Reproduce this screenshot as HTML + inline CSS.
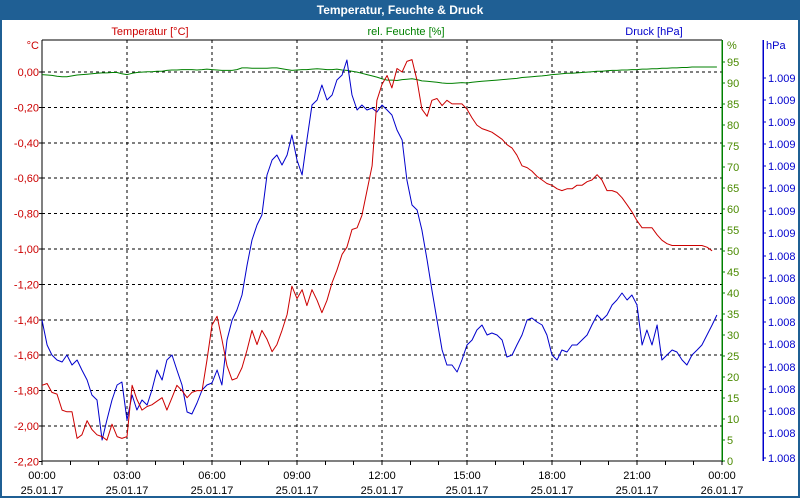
<!DOCTYPE html>
<html><head><meta charset="utf-8"><style>
html,body{margin:0;padding:0;background:#fff}
#win{position:relative;width:796px;height:496px;border:2px solid #1f5f94;border-top:none;background:#fff;overflow:hidden}
#title{position:absolute;left:0;top:0;width:796px;height:20px;background:#1f5f94;color:#fff;font:bold 12px "Liberation Sans",sans-serif;text-align:center;line-height:20px}
svg text{font-family:"Liberation Sans",sans-serif;font-size:11px}
</style></head><body>
<div id="win">
<div id="title">Temperatur, Feuchte &amp; Druck</div>
<svg id="chart" width="796" height="496" style="position:absolute;left:0;top:0"></svg>
</div>
<script>
const times=[0,0.18,0.35,0.53,0.71,0.88,1.06,1.24,1.41,1.59,1.76,1.94,2.12,2.29,2.47,2.65,2.82,
3,3.18,3.35,3.53,3.71,3.88,4.06,4.24,4.41,4.59,4.76,4.94,5.12,5.29,5.47,5.65,5.82,
6,6.18,6.35,6.53,6.71,6.88,7.06,7.24,7.41,7.59,7.76,7.94,8.12,8.29,8.47,8.65,8.82,
9,9.18,9.35,9.53,9.71,9.88,10.06,10.24,10.41,10.59,10.76,10.94,11.12,11.29,11.47,11.65,11.82,
12,12.18,12.35,12.53,12.71,12.88,13.06,13.24,13.41,13.59,13.76,13.94,14.12,14.29,14.47,14.65,14.82,
15,15.18,15.35,15.53,15.71,15.88,16.06,16.24,16.41,16.59,16.76,16.94,17.12,17.29,17.47,17.65,17.82,
18,18.18,18.35,18.53,18.71,18.88,19.06,19.24,19.41,19.59,19.76,19.94,20.12,20.29,20.47,20.65,20.82,
21,21.18,21.35,21.53,21.71,21.88,22.06,22.24,22.41,22.59,22.76,22.94,23.12,23.29,23.47,23.65,23.82];
const temperature=[-1.77,-1.76,-1.81,-1.82,-1.91,-1.92,-1.92,-2.07,-2.05,-1.97,-2.02,-2.05,-2.06,-2.08,-1.99,-2.06,-2.07,
-2.06,-1.77,-1.85,-1.91,-1.89,-1.88,-1.86,-1.84,-1.91,-1.84,-1.77,-1.80,-1.84,-1.81,-1.80,-1.80,-1.63,
-1.43,-1.38,-1.51,-1.66,-1.74,-1.73,-1.67,-1.57,-1.46,-1.54,-1.46,-1.51,-1.58,-1.54,-1.46,-1.37,-1.21,
-1.28,-1.23,-1.32,-1.23,-1.29,-1.36,-1.29,-1.19,-1.12,-1.03,-0.99,-0.89,-0.88,-0.81,-0.67,-0.53,-0.16,
-0.07,-0.02,-0.09,0.02,0.00,0.06,0.07,-0.05,-0.21,-0.25,-0.16,-0.15,-0.19,-0.16,-0.18,-0.18,-0.18,
-0.21,-0.26,-0.30,-0.32,-0.33,-0.34,-0.36,-0.38,-0.41,-0.43,-0.47,-0.53,-0.54,-0.56,-0.59,-0.61,-0.63,
-0.64,-0.66,-0.67,-0.66,-0.66,-0.64,-0.64,-0.62,-0.61,-0.58,-0.61,-0.67,-0.67,-0.68,-0.71,-0.75,-0.79,
-0.84,-0.88,-0.88,-0.88,-0.92,-0.95,-0.97,-0.98,-0.98,-0.98,-0.98,-0.98,-0.98,-0.98,-0.99,-1.01];
const humidity=[92.0,91.9,91.8,91.6,91.5,91.5,91.7,91.9,92.0,92.1,92.2,92.3,92.4,
92.4,92.5,92.5,92.2,92.0,92.3,92.5,92.6,
92.7,92.7,92.8,92.8,93.0,93.1,93.1,93.2,93.2,93.2,93.1,93.2,
93.3,93.2,93.1,93.0,93.0,93.0,93.2,93.6,93.6,93.5,93.5,93.5,93.5,93.6,
93.6,93.4,93.2,93.0,93.1,93.2,93.2,93.3,93.4,93.3,93.2,93.2,93.3,93.1,
93.0,92.8,92.6,92.3,92.0,91.7,91.4,91.0,90.7,90.7,90.6,90.8,90.9,91.0,
90.8,90.5,90.4,90.3,90.2,90.0,89.9,89.9,90.0,90.1,90.0,90.2,90.3,90.4,
90.5,90.6,90.7,90.8,90.9,91.0,91.1,91.3,91.4,91.5,91.6,91.7,91.8,92.0,
92.1,92.2,92.3,92.3,92.4,92.5,92.6,92.7,92.8,92.8,92.9,93.0,93.0,93.1,
93.1,93.2,93.2,93.3,93.3,93.4,93.4,93.5,93.5,93.6,93.6,93.7,93.7,93.8,
93.8,93.8,93.8,93.8,93.8];
const pressure=[1008.350,1008.300,1008.280,1008.270,1008.266,1008.280,1008.260,1008.270,1008.250,1008.230,
1008.200,1008.190,1008.110,1008.150,1008.190,1008.220,1008.226,1008.150,1008.200,1008.170,
1008.190,1008.180,1008.210,1008.250,1008.230,1008.270,1008.280,1008.250,1008.220,1008.166,
1008.162,1008.184,1008.210,1008.220,1008.224,
1008.250,1008.220,1008.310,1008.350,1008.370,1008.400,1008.460,1008.510,1008.540,1008.560,
1008.640,1008.670,1008.680,1008.660,1008.680,1008.720,1008.670,1008.640,1008.710,1008.780,
1008.790,1008.820,1008.790,1008.800,1008.830,1008.840,1008.870,1008.800,1008.770,1008.780,
1008.770,1008.774,1008.766,1008.780,1008.770,1008.760,1008.730,1008.710,1008.630,1008.580,
1008.570,1008.530,1008.470,1008.410,1008.350,1008.290,1008.260,1008.260,1008.246,1008.270,
1008.300,1008.310,1008.330,1008.340,1008.320,1008.324,1008.320,1008.310,1008.276,1008.280,
1008.300,1008.320,1008.350,1008.354,1008.346,1008.340,1008.320,1008.280,1008.270,1008.290,
1008.286,1008.300,1008.300,1008.310,1008.320,1008.340,1008.360,1008.350,1008.360,1008.380,
1008.390,1008.404,1008.390,1008.400,1008.380,1008.300,1008.330,1008.300,1008.340,1008.270,
1008.280,1008.290,1008.286,1008.270,1008.260,1008.280,1008.290,1008.300,1008.320,1008.340,
1008.360];
const tempTicks=[0,-0.2,-0.4,-0.6,-0.8,-1.0,-1.2,-1.4,-1.6,-1.8,-2.0,-2.2];
const humTicks=[0,5,10,15,20,25,30,35,40,45,50,55,60,65,70,75,80,85,90,95];
const presTicks=[1008.834,1008.79,1008.746,1008.702,1008.658,1008.614,1008.568,1008.524,1008.478,1008.434,1008.39,1008.346,1008.302,1008.256,1008.212,1008.168,1008.124,1008.074];
const hourTicks=[0,3,6,9,12,15,18,21,24];
const timeLabels=["00:00","03:00","06:00","09:00","12:00","15:00","18:00","21:00","00:00"];
const dateLabels=["25.01.17","25.01.17","25.01.17","25.01.17","25.01.17","25.01.17","25.01.17","25.01.17","26.01.17"];

const L=40,R=720,T=40,B=461;
const xS=h=>L+h*(R-L)/24;
const yT=v=>72-v*177;
const yH=v=>B-v*4.2;
const yP=v=>245-(v-1008.5)*500;
const svg=document.getElementById('chart');
const NS='http://www.w3.org/2000/svg';
function mk(tag,attrs,parent){const e=document.createElementNS(NS,tag);for(const k in attrs)e.setAttribute(k,attrs[k]);(parent||svg).appendChild(e);return e;}
function txt(x,y,s,fill,anchor){const e=mk('text',{x:x,y:y,fill:fill,'text-anchor':anchor||'start'});e.textContent=s;return e;}

// grid
for(let i=1;i<tempTicks.length-1;i++){const y=yT(tempTicks[i]);
const g=mk('line',{x1:L,x2:R,y1:y,y2:y,stroke:'#000','stroke-dasharray':'3,3','stroke-width':1,'shape-rendering':'crispEdges'});

}
{const y=yT(0);const g=mk('line',{x1:L,x2:R,y1:y,y2:y,stroke:'#000','stroke-dasharray':'3,3','shape-rendering':'crispEdges'});

}
for(let i=1;i<hourTicks.length-1;i++){const x=xS(hourTicks[i]);
const g=mk('line',{x1:x,x2:x,y1:T,y2:B,stroke:'#000','stroke-dasharray':'3,3','shape-rendering':'crispEdges'});

}

// axes
let a=mk('line',{x1:L,x2:L,y1:T,y2:B+1,stroke:'#000','shape-rendering':'crispEdges'});


a=mk('line',{x1:L,x2:R,y1:T,y2:T,stroke:'#000','shape-rendering':'crispEdges'});


a=mk('line',{x1:L,x2:R,y1:B,y2:B,stroke:'#000','shape-rendering':'crispEdges'});


a=mk('line',{x1:R,x2:R,y1:T,y2:B+1,stroke:'#008000','stroke-width':1.5,'shape-rendering':'crispEdges'});


a=mk('line',{x1:761,x2:761,y1:T,y2:B,stroke:'#0000cc','stroke-width':1.5,'shape-rendering':'crispEdges'});



// temp ticks
tempTicks.forEach(v=>{const y=yT(v);
mk('line',{x1:L-3,x2:L,y1:y,y2:y,stroke:'#000','shape-rendering':'crispEdges'});
const t=txt(37,y+4,v.toFixed(2).replace('.',',').replace('-0,00','0,00'),'#cc0000','end');

});
humTicks.forEach(v=>{const y=yH(v);
mk('line',{x1:R,x2:R+3,y1:y,y2:y,stroke:'#008000','shape-rendering':'crispEdges'});
const t=txt(725,y+4,String(v),'#4a8a00','start');

});
presTicks.forEach(v=>{const y=yP(v);
mk('line',{x1:761,x2:764,y1:y,y2:y,stroke:'#0000cc','shape-rendering':'crispEdges'});
const t=txt(766,y+4,(v/1000).toFixed(3),'#0000cc','start');

});
for(let h=0;h<=24;h++){const x=xS(h);mk('line',{x1:x,x2:x,y1:B,y2:B+4,stroke:'#000','shape-rendering':'crispEdges'});}
hourTicks.forEach((h,i)=>{const x=xS(h);
const t=txt(x,479,timeLabels[i],'#000','middle');


const d=txt(x,494,dateLabels[i],'#000','middle');

});

// axis titles
let at=txt(148,35,'Temperatur [°C]','#cc0000','middle');


at=txt(404,35,'rel. Feuchte [%]','#008000','middle');


at=txt(652,35,'Druck [hPa]','#0000cc','middle');


at=txt(37,49,'°C','#cc0000','end');


at=txt(725,49,'%','#4a8a00','start');


at=txt(764,49,'hPa','#0000cc','start');



// series
function line(vals,yf,color,name){
const pts=vals.map((v,i)=>xS(times[i]).toFixed(1)+','+yf(v).toFixed(1)).join(' ');
const p=mk('polyline',{points:pts,fill:'none',stroke:color,'stroke-width':1,'stroke-linejoin':'round'});

}
line(humidity,yH,'#008000','humidity-line');
line(pressure,yP,'#0000cc','pressure-line');
line(temperature,yT,'#cc0000','temperature-line');
</script>
</body></html>
